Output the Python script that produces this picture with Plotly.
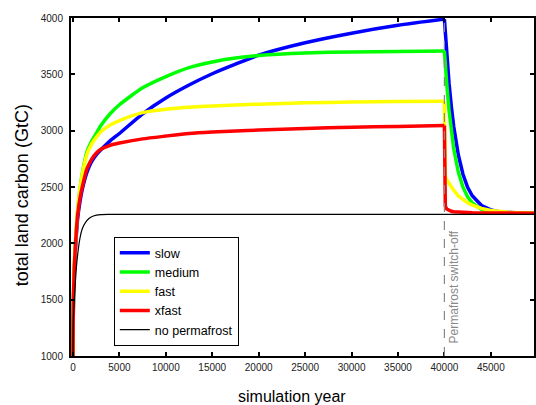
import plotly.graph_objects as go

# ---- data ----
years_grow = [0, 20, 60, 150, 300, 500, 750, 1000, 1500, 2000, 2500, 3000, 4000, 5000,
              7500, 10000, 12500, 15000, 17500, 20000, 25000, 30000, 35000, 40000]
years_decay = [40000, 40050, 40100, 40250, 40500, 40750, 41000, 41500, 42000, 42500,
               43000, 44000, 45000, 46000, 47000, 48000, 50000]

slow_grow = [1000, 1280, 1520, 1770, 2000, 2220, 2370, 2480, 2630, 2725, 2785, 2830, 2910, 2975,
             3150, 3290, 3405, 3505, 3590, 3670, 3780, 3865, 3935, 3990]
slow_decay = [3990, 3930, 3870, 3678, 3421, 3212, 3040, 2784, 2613, 2498,
              2422, 2336, 2297, 2279, 2273, 2270, 2268]

medium_grow = [1000, 1300, 1560, 1820, 2060, 2290, 2480, 2620, 2810, 2905, 2975, 3045, 3150, 3230,
               3380, 3480, 3560, 3610, 3645, 3668, 3690, 3699, 3703, 3708]
medium_decay = [3708, 3640, 3580, 3417, 3180, 2992, 2841, 2632, 2498, 2413,
                2359, 2302, 2280, 2271, 2269, 2268, 2268]

fast_grow = [1000, 1300, 1560, 1820, 2060, 2290, 2480, 2610, 2790, 2880, 2940, 2990, 3050, 3090,
             3160, 3190, 3207, 3220, 3228, 3235, 3247, 3254, 3258, 3262]
fast_decay = [3262, 2650, 2590, 2565, 2530, 2500, 2472, 2420, 2385, 2360,
              2340, 2310, 2292, 2282, 2276, 2272, 2268]

xfast_grow = [1000, 1300, 1550, 1800, 2030, 2250, 2400, 2500, 2660, 2745, 2800, 2835, 2870, 2890,
              2927, 2952, 2975, 2988, 2997, 3005, 3020, 3030, 3038, 3045]
xfast_decay = [3045, 2500, 2330, 2305, 2292, 2285, 2280, 2276, 2273, 2272,
               2271, 2270, 2270, 2269, 2269, 2268, 2268]

nopf_years = [0, 30, 100, 200, 400, 750, 1000, 1300, 1750, 2200, 3000, 4000, 50000]
nopf_vals = [1000, 1300, 1450, 1580, 1820, 2045, 2130, 2180, 2222, 2243, 2255, 2257, 2257]

x_ticks = [0, 5000, 10000, 15000, 20000, 25000, 30000, 35000, 40000, 45000]
y_ticks = [1000, 1500, 2000, 2500, 3000, 3500, 4000]
switch_year = 40000

series = [
    ("slow", slow_grow, slow_decay, "#0000ff"),
    ("medium", medium_grow, medium_decay, "#00ff00"),
    ("fast", fast_grow, fast_decay, "#ffff00"),
    ("xfast", xfast_grow, xfast_decay, "#ff0000"),
]

fig = go.Figure()
for name, g, d, col in series:
    fig.add_trace(go.Scatter(
        x=years_grow, y=g, name=name, mode="lines", legendgroup=name,
        line=dict(color=col, width=3.5, shape="spline", smoothing=0.6)))
    fig.add_trace(go.Scatter(
        x=years_decay, y=d, name=name, mode="lines", legendgroup=name, showlegend=False,
        line=dict(color=col, width=3.5, shape="linear")))
fig.add_trace(go.Scatter(
    x=nopf_years, y=nopf_vals, name="no permafrost", mode="lines",
    line=dict(color="#000000", width=1.2, shape="spline", smoothing=0.6)))

fig.add_shape(type="line", xref="x", yref="paper", x0=switch_year, x1=switch_year, y0=0, y1=1,
              line=dict(color="#888888", width=1.2, dash="dash"), layer="above")

W, H = 536, 405
L, R, T, B = 71, 0, 18, 405 - 356
pw, ph = W - L - R, H - T - B

def px2paper_x(px):
    return (px - L) / pw

def py2paper_y(py):
    return (T + ph - py) / ph

FONT = "Liberation Sans, Arial"
fig.add_annotation(x=switch_year, y=py2paper_y(287), xref="x", yref="paper", xshift=10,
                   xanchor="center", yanchor="middle",
                   text="Permafrost switch-off", textangle=-90, showarrow=False,
                   font=dict(size=12, color="#888888", family=FONT))
fig.add_annotation(x=px2paper_x(293), y=py2paper_y(396), xref="paper", yref="paper",
                   xanchor="center", yanchor="middle",
                   text="simulation year", showarrow=False,
                   font=dict(size=16, color="#000000", family=FONT))
fig.add_annotation(x=px2paper_x(22), y=py2paper_y(195), xref="paper", yref="paper",
                   xanchor="center", yanchor="middle",
                   text="total land carbon (GtC)", textangle=-90, showarrow=False,
                   font=dict(size=18, color="#000000", family=FONT))

axis_common = dict(showline=True, linecolor="#000000", linewidth=2, mirror="ticks",
                   ticks="inside", ticklen=4, tickwidth=1.5, tickcolor="#000000",
                   showgrid=False, zeroline=False,
                   tickfont=dict(size=10, color="#222222", family=FONT))

fig.update_layout(
    width=W, height=H,
    margin=dict(l=L, r=R, t=T, b=B, pad=0),
    paper_bgcolor="#ffffff", plot_bgcolor="#ffffff",
    showlegend=True,
    legend=dict(x=px2paper_x(114), y=py2paper_y(237), xanchor="left", yanchor="top",
                bordercolor="#000000", borderwidth=1, bgcolor="#ffffff",
                font=dict(size=12.5, color="#000000", family=FONT),
                itemwidth=30, tracegroupgap=0),
    xaxis=dict(range=[-214, 49650], tickvals=x_ticks, ticktext=[str(v) for v in x_ticks],
               ticklabelstandoff=1, **axis_common),
    yaxis=dict(range=[1000, 4000], tickvals=y_ticks, ticktext=[str(v) for v in y_ticks],
               ticklabelstandoff=4, **axis_common),
)

fig.write_html(
    "out.html",
    config={"displayModeBar": False},
    post_script="document.documentElement.style.overflow='hidden';"
                "document.body.style.margin='0px';document.body.style.overflow='hidden';",
)
